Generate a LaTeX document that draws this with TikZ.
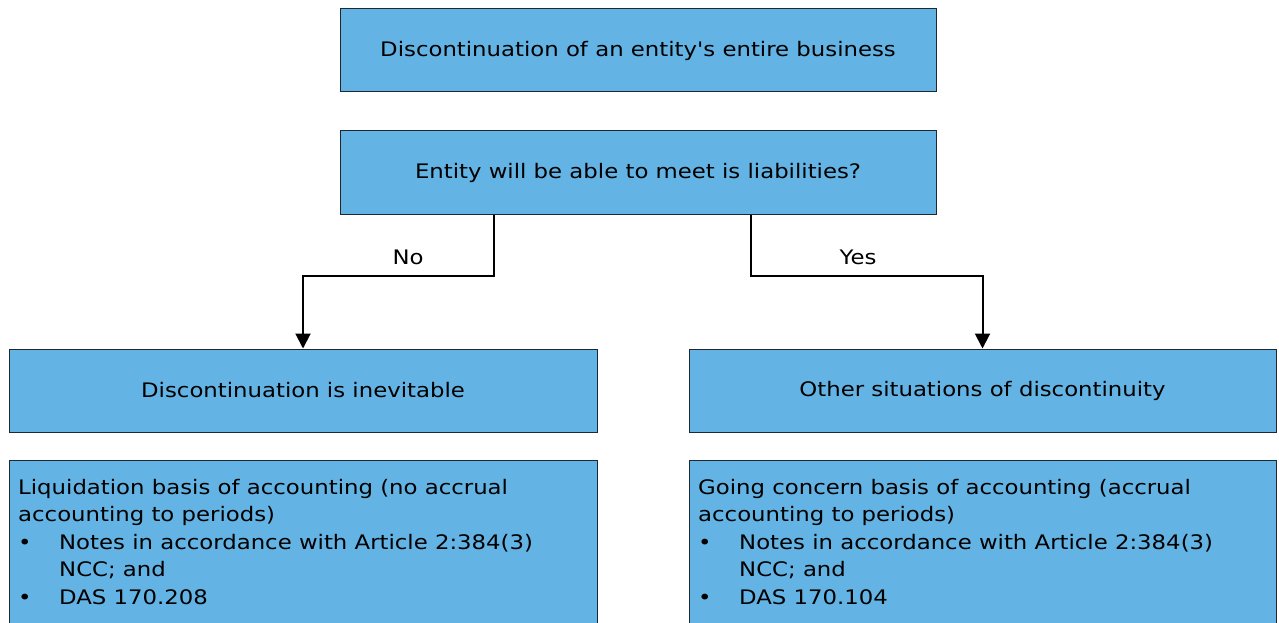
\documentclass[tikz,border=0pt]{standalone}
\usepackage{fontspec}
\setmainfont{DejaVu Sans}[FakeStretch=1.14, Ligatures=TeXOff]
\usetikzlibrary{arrows.meta,positioning}
\definecolor{boxblue}{RGB}{99,180,228}
\definecolor{boxline}{RGB}{30,40,50}
\tikzset{
  flowbox/.style={draw=boxline, line width=1pt, fill=boxblue, inner sep=0pt,
    minimum height=83pt, font=\fontsize{20}{24}\selectfont},
  notebox/.style={draw=boxline, line width=1pt, fill=boxblue, inner sep=0pt,
    anchor=north west, minimum height=190pt},
  notetext/.style={anchor=north west, inner sep=0pt, align=left,
    font=\fontsize{20}{27.4}\selectfont},
  flowarrow/.style={line width=2pt, -{Triangle[length=15pt,width=15pt]}},
  branchlabel/.style={font=\fontsize{20}{24}\selectfont, inner sep=0pt}
}
\newcommand{\bulletitem}{\makebox[41pt][l]{\textbullet}}
\newcommand{\contindent}{\hspace*{41pt}}
\begin{document}
\begin{tikzpicture}[x=1pt, y=-1pt]
  \useasboundingbox (0,0) rectangle (1279,623);
  \clip (0,0) rectangle (1279,623);

  % decision chain
  \node[flowbox, minimum width=596pt] (top) at (638,50.5)
    {Discontinuation of an entity's entire business};
  \node[flowbox, minimum width=596pt] (ask) at (638,172.5)
    {Entity will be able to meet is liabilities?};
  \node[flowbox, minimum width=588pt] (inev) at (303,390.5)
    {Discontinuation is inevitable};
  \node[flowbox, minimum width=587pt] (other) at (982.5,390.5)
    {Other situations of discontinuity};

  % accounting consequences (boxes run past the lower edge)
  \node[notebox, minimum width=588pt] (liq) at (9,460) {};
  \node[notebox, minimum width=587pt] (gc) at (689,460) {};
  \node[notetext] (liqtext) at (18,479)
    {Liquidation basis of accounting (no accrual\\
     accounting to periods)\\
     \bulletitem Notes in accordance with Article 2:384(3)\\
     \contindent NCC; and\\
     \bulletitem DAS 170.208};
  \node[notetext] (gctext) at (698,479)
    {Going concern basis of accounting (accrual\\
     accounting to periods)\\
     \bulletitem Notes in accordance with Article 2:384(3)\\
     \contindent NCC; and\\
     \bulletitem DAS 170.104};

  % branches
  \coordinate (nostart) at ([xshift=-144pt]ask.south);
  \coordinate (yesstart) at ([xshift=113pt]ask.south);
  \draw[flowarrow] (nostart) -- ++(0,61) -| (inev.north);
  \draw[flowarrow] (yesstart) -- ++(0,61) -| (other.north);
  \node[branchlabel] (nolab) at (408,257) {No};
  \node[branchlabel] (yeslab) at (858,257) {Yes};
\end{tikzpicture}
\end{document}
